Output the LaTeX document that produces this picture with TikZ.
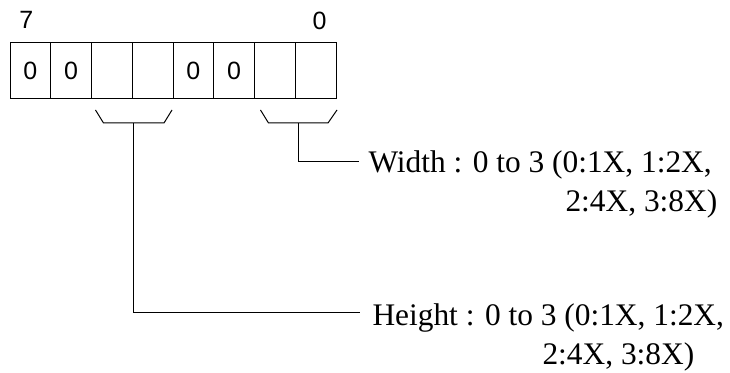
\documentclass[tikz,border=0pt]{standalone}
\usepackage{fontspec}
\setmainfont{Liberation Serif}
\setsansfont{Liberation Sans}
\usetikzlibrary{positioning,calc}
\tikzset{
  bit/.style={draw,minimum width=20.375pt,minimum height=28pt,inner sep=0pt,
    outer sep=0pt,font=\sffamily\fontsize{12.5}{15}\selectfont},
  szam/.style={inner sep=0pt,font=\sffamily\fontsize{12.5}{15}\selectfont},
  felirat/.style={inner sep=0pt,font=\fontsize{15.7}{19.5}\selectfont},
  kapocs/.style={line width=0.5pt},
}

\begin{document}
\begin{tikzpicture}[x=0.5pt,y=-0.5pt,line width=0.5pt]
  \useasboundingbox (0,0) rectangle (730,373);
  % a regiszter bitjei, 7-tol 0-ig
  \foreach \n/\v in {7/0,6/0,5/,4/,3/0,2/0,1/,0/}
    \node[bit,anchor=north west] (b\n) at ({10+40.75*(7-\n)},43) {\v};
  \node[szam,anchor=base] (n7) at ($(b7.north)+(-4,-14)$) {7};
  \node[szam,anchor=base] (n0) at ($(b0.north)+(4,-13)$) {0};
  % kapcsok a mezok alatt
  \draw[kapocs] ($(b5.south west)+(4,11)$) -- ++(8,13) coordinate (hbal)
    -- ($(b4.south east)+(-9,24)$) coordinate (hjobb) -- ($(b4.south east)+(-1,11)$);
  \coordinate (hk) at ($(hbal)!0.5!(hjobb)$);
  \draw[kapocs] ($(b1.south west)+(6,11)$) -- ++(8,13) coordinate (wbal)
    -- ($(b0.south east)+(-8,24)$) coordinate (wjobb) -- ($(b0.south east)+(1,11)$);
  \coordinate (wk) at ($(wbal)!0.5!(wjobb)$);
  % feliratok
  \node[felirat,anchor=base west] (w1) at (368,173) {Width : 0 to 3 (0:1X, 1:2X,};
  \node[felirat,anchor=base west] (w2) at (565,212) {2:4X, 3:8X)};
  \node[felirat,anchor=base west] (h1) at (372,326) {Height : 0 to 3 (0:1X, 1:2X,};
  \node[felirat,anchor=base west] (h2) at (542,365) {2:4X, 3:8X)};
  \draw[kapocs] (wk) |- ($(w1.base west)+(-9,-11)$);
  \draw[kapocs] (hk) |- ($(h1.base west)+(-12,-13)$);
\end{tikzpicture}
\end{document}
